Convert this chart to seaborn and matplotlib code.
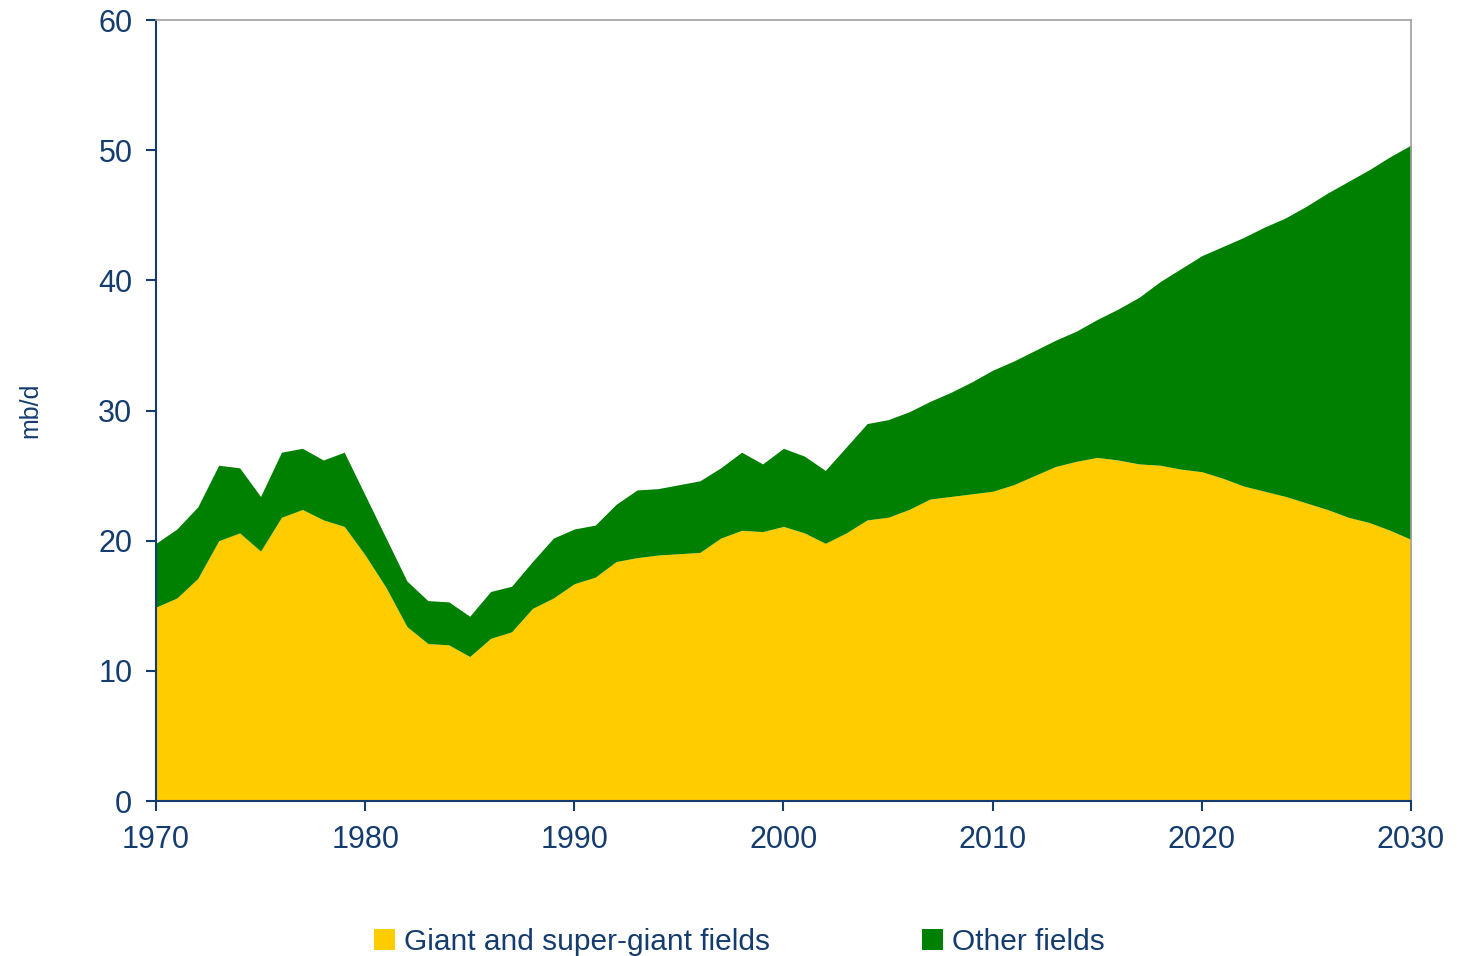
import pandas as pd
import matplotlib.pyplot as plt
import seaborn as sns

sns.set_theme(style="white")
plt.rcParams['font.family'] = ['Liberation Sans', 'DejaVu Sans']

# oil production by field size, mb/d
years = list(range(1970, 2031))

giant = [14.9, 15.6, 17.1, 20.0, 20.6, 19.2, 21.8, 22.4, 21.6, 21.1,
         18.9, 16.4, 13.4, 12.1, 12.0, 11.1, 12.5, 13.0, 14.8, 15.6,
         16.7, 17.2, 18.4, 18.7, 18.9, 19.0, 19.1, 20.2, 20.8, 20.7,
         21.1, 20.6, 19.8, 20.6, 21.6, 21.8, 22.4, 23.2, 23.4, 23.6,
         23.8, 24.3, 25.0, 25.7, 26.1, 26.4, 26.2, 25.9, 25.8, 25.5,
         25.3, 24.8, 24.2, 23.8, 23.4, 22.9, 22.4, 21.8, 21.4, 20.8,
         20.1]

other = [4.9, 5.3, 5.5, 5.8, 5.0, 4.2, 5.0, 4.7, 4.6, 5.7,
         4.6, 3.8, 3.5, 3.3, 3.3, 3.1, 3.6, 3.5, 3.6, 4.6,
         4.2, 4.0, 4.4, 5.2, 5.1, 5.3, 5.5, 5.4, 6.0, 5.2,
         6.0, 5.9, 5.6, 6.6, 7.4, 7.5, 7.5, 7.5, 8.0, 8.6,
         9.3, 9.5, 9.6, 9.7, 10.0, 10.6, 11.6, 12.8, 14.1, 15.4,
         16.6, 17.8, 19.1, 20.3, 21.4, 22.8, 24.3, 25.8, 27.1, 28.7,
         30.3]

labels = ['Giant and super-giant fields', 'Other fields']
colors = ['#FFCC00', '#008000']
navy = '#143C6E'

df = pd.DataFrame({'year': years, labels[0]: giant, labels[1]: other})

fig = plt.figure(figsize=(14.59, 9.56), dpi=100)
ax = fig.add_axes([0.1069, 0.1621, 0.8602, 0.8169])

ax.stackplot(df['year'], df[labels[0]], df[labels[1]],
             colors=colors, labels=labels, linewidth=0)

ax.set_xlim(1970, 2030)
ax.set_ylim(0, 60)
ax.set_xticks(range(1970, 2031, 10))
ax.set_yticks(range(0, 61, 10))
ax.set_ylabel('mb/d', fontsize=18, color=navy, labelpad=40)

ax.tick_params(axis='y', labelsize=22, colors=navy, direction='out',
               length=7, width=1.5, left=True, pad=10)
ax.tick_params(axis='x', labelsize=22, colors=navy, direction='out',
               length=7, width=1.5, bottom=True, pad=10)

for side in ['left', 'bottom']:
    ax.spines[side].set_color(navy)
    ax.spines[side].set_linewidth(1.5)
for side in ['top', 'right']:
    ax.spines[side].set_color('#A0A0A0')
    ax.spines[side].set_linewidth(1.2)

handles, lbls = ax.get_legend_handles_labels()
leg = fig.legend(handles, lbls, loc='center', bbox_to_anchor=(0.507, 0.015),
                 ncol=2, frameon=False, fontsize=21.5, handlelength=0.7,
                 handleheight=0.7, handletextpad=0.3, columnspacing=5.1)
for t in leg.get_texts():
    t.set_color(navy)

fig.savefig('out.png', dpi=100)
